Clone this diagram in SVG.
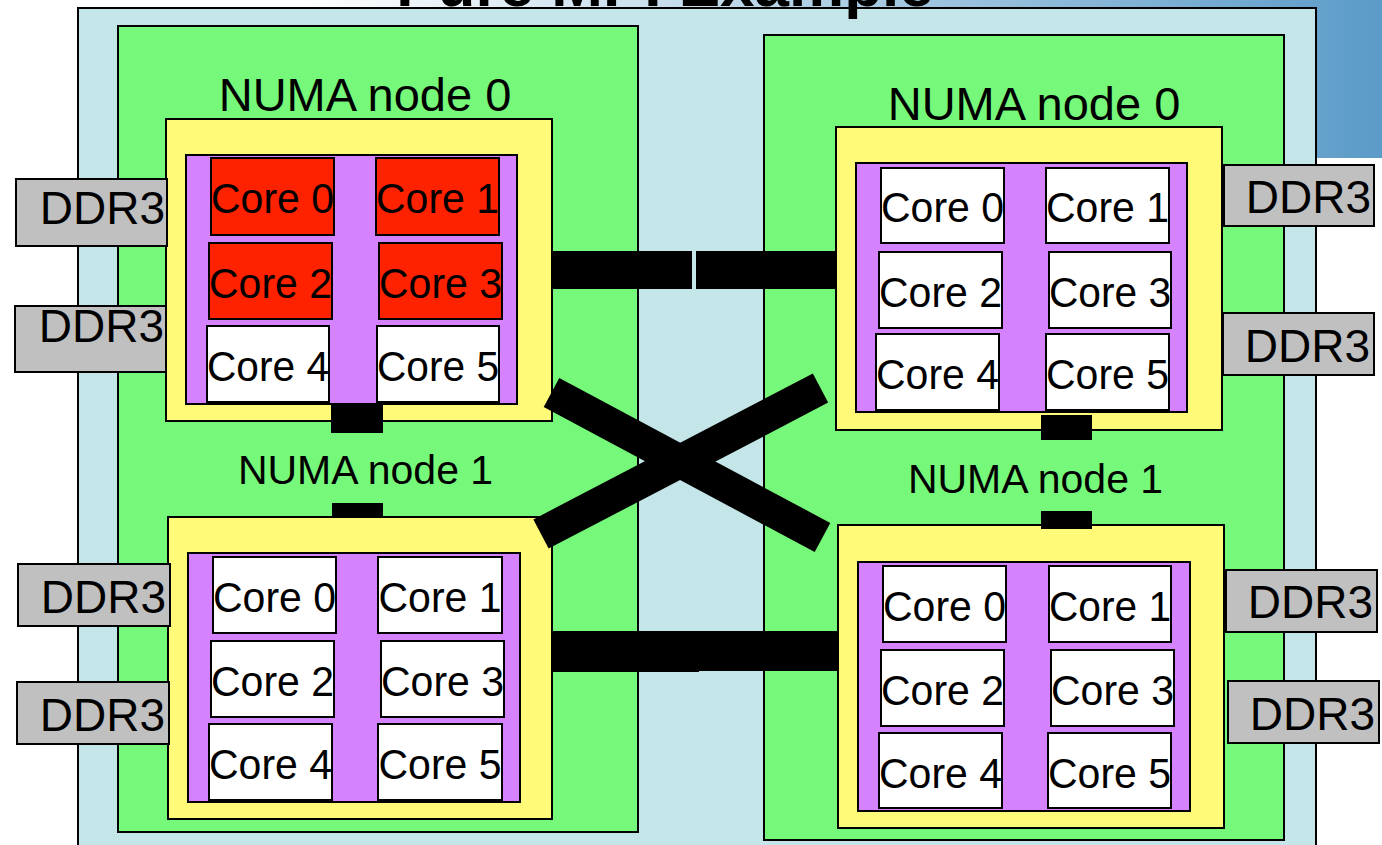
<svg xmlns="http://www.w3.org/2000/svg" width="1382" height="845" viewBox="0 0 1382 845">
<defs>
<linearGradient id="banner" gradientUnits="userSpaceOnUse" x1="300" y1="0" x2="1382" y2="0">
<stop offset="0" stop-color="#ffffff"/>
<stop offset="1" stop-color="#5b9bc8"/>
</linearGradient>
<style>
.bg{fill:#c4e6e8;stroke:#000;stroke-width:2}
.socket{fill:#76f87a;stroke:#000;stroke-width:2}
.numa{fill:#fffa78;stroke:#000;stroke-width:2}
.die{fill:#d582fe;stroke:#000;stroke-width:2}
.core{fill:#ffffff;stroke:#000;stroke-width:2}
.busy{fill:#ff2200}
.ddr{fill:#c0c0c0;stroke:#000;stroke-width:2}
.t{font-family:"Liberation Sans",Arial,sans-serif;fill:#000}
.ct{font-size:43px;text-anchor:middle}
.dt{font-size:46px;text-anchor:end}
.nt{text-anchor:middle}
.link{fill:#000}
.xline{stroke:#000;stroke-width:33;stroke-linecap:butt;fill:none}
</style>
</defs>
<rect x="0" y="0" width="1382" height="158" fill="url(#banner)"/>
<rect class="bg" x="78" y="8" width="1238" height="860"/>
<text class="t" x="665" y="6" font-size="62" font-weight="bold" text-anchor="middle">Pure MPI Example</text>
<rect class="socket" x="118" y="26" width="520" height="806"/>
<rect class="socket" x="764" y="35" width="520" height="805"/>

<g id="numa-tl">
<text class="t nt" x="365" y="111" font-size="47">NUMA node 0</text>
<rect class="numa" x="166" y="119" width="386" height="302"/>
<rect class="die" x="186" y="155" width="331" height="249"/>
<rect class="core busy" x="211" y="158" width="123" height="77"/><text class="t ct" x="272.5" y="213" textLength="123" lengthAdjust="spacingAndGlyphs">Core 0</text>
<rect class="core busy" x="376" y="158" width="123" height="77"/><text class="t ct" x="437.5" y="213" textLength="123" lengthAdjust="spacingAndGlyphs">Core 1</text>
<rect class="core busy" x="209" y="243" width="123" height="76"/><text class="t ct" x="270.5" y="298" textLength="123" lengthAdjust="spacingAndGlyphs">Core 2</text>
<rect class="core busy" x="379" y="243" width="123" height="76"/><text class="t ct" x="440.5" y="298" textLength="123" lengthAdjust="spacingAndGlyphs">Core 3</text>
<rect class="core" x="207" y="326" width="122" height="76"/><text class="t ct" x="268" y="381" textLength="122" lengthAdjust="spacingAndGlyphs">Core 4</text>
<rect class="core" x="377" y="326" width="122" height="76"/><text class="t ct" x="438" y="381" textLength="122" lengthAdjust="spacingAndGlyphs">Core 5</text>
<rect class="ddr" x="16" y="179" width="151" height="67"/><text class="t dt" x="165" y="224">DDR3</text>
<rect class="ddr" x="15" y="306" width="151" height="66"/><text class="t dt" x="164" y="342">DDR3</text>
</g>

<g id="numa-bl">
<text class="t nt" x="365.5" y="484" font-size="41">NUMA node 1</text>
<rect class="numa" x="168" y="517" width="384" height="302"/>
<rect class="die" x="188" y="553" width="332" height="249"/>
<rect class="core" x="213" y="557" width="123" height="76"/><text class="t ct" x="274.5" y="612" textLength="123" lengthAdjust="spacingAndGlyphs">Core 0</text>
<rect class="core" x="378" y="557" width="124" height="76"/><text class="t ct" x="440" y="612" textLength="123" lengthAdjust="spacingAndGlyphs">Core 1</text>
<rect class="core" x="211" y="641" width="123" height="76"/><text class="t ct" x="272.5" y="696" textLength="123" lengthAdjust="spacingAndGlyphs">Core 2</text>
<rect class="core" x="381" y="641" width="123" height="76"/><text class="t ct" x="442.5" y="696" textLength="123" lengthAdjust="spacingAndGlyphs">Core 3</text>
<rect class="core" x="209" y="724" width="123" height="76"/><text class="t ct" x="270.5" y="779" textLength="123" lengthAdjust="spacingAndGlyphs">Core 4</text>
<rect class="core" x="378" y="724" width="124" height="76"/><text class="t ct" x="440" y="779" textLength="123" lengthAdjust="spacingAndGlyphs">Core 5</text>
<rect class="ddr" x="18" y="564" width="152" height="62"/><text class="t dt" x="166" y="613">DDR3</text>
<rect class="ddr" x="17" y="682" width="152" height="62"/><text class="t dt" x="165" y="731">DDR3</text>
</g>

<g id="numa-tr">
<text class="t nt" x="1034" y="120" font-size="47">NUMA node 0</text>
<rect class="numa" x="836" y="127" width="386" height="303"/>
<rect class="die" x="856" y="163" width="331" height="249"/>
<rect class="core" x="881" y="168" width="123" height="75"/><text class="t ct" x="942.5" y="222" textLength="123" lengthAdjust="spacingAndGlyphs">Core 0</text>
<rect class="core" x="1046" y="168" width="123" height="75"/><text class="t ct" x="1107.5" y="222" textLength="123" lengthAdjust="spacingAndGlyphs">Core 1</text>
<rect class="core" x="879" y="252" width="123" height="76"/><text class="t ct" x="940.5" y="307" textLength="123" lengthAdjust="spacingAndGlyphs">Core 2</text>
<rect class="core" x="1049" y="252" width="122" height="76"/><text class="t ct" x="1110" y="307" textLength="122" lengthAdjust="spacingAndGlyphs">Core 3</text>
<rect class="core" x="876" y="334" width="123" height="76"/><text class="t ct" x="937.5" y="389" textLength="123" lengthAdjust="spacingAndGlyphs">Core 4</text>
<rect class="core" x="1046" y="334" width="123" height="76"/><text class="t ct" x="1107.5" y="389" textLength="123" lengthAdjust="spacingAndGlyphs">Core 5</text>
<rect class="ddr" x="1224" y="165" width="150" height="61"/><text class="t dt" x="1371" y="213">DDR3</text>
<rect class="ddr" x="1223" y="313" width="151" height="62"/><text class="t dt" x="1370" y="362">DDR3</text>
</g>

<g id="numa-br">
<text class="t nt" x="1035.5" y="493" font-size="41">NUMA node 1</text>
<rect class="numa" x="838" y="525" width="386" height="303"/>
<rect class="die" x="858" y="562" width="332" height="249"/>
<rect class="core" x="883" y="566" width="123" height="76"/><text class="t ct" x="944.5" y="621" textLength="123" lengthAdjust="spacingAndGlyphs">Core 0</text>
<rect class="core" x="1049" y="566" width="122" height="76"/><text class="t ct" x="1110" y="621" textLength="122" lengthAdjust="spacingAndGlyphs">Core 1</text>
<rect class="core" x="881" y="650" width="123" height="76"/><text class="t ct" x="942.5" y="705" textLength="123" lengthAdjust="spacingAndGlyphs">Core 2</text>
<rect class="core" x="1051" y="650" width="123" height="76"/><text class="t ct" x="1112.5" y="705" textLength="123" lengthAdjust="spacingAndGlyphs">Core 3</text>
<rect class="core" x="879" y="733" width="123" height="75"/><text class="t ct" x="940.5" y="788" textLength="123" lengthAdjust="spacingAndGlyphs">Core 4</text>
<rect class="core" x="1048" y="733" width="123" height="75"/><text class="t ct" x="1109.5" y="788" textLength="123" lengthAdjust="spacingAndGlyphs">Core 5</text>
<rect class="ddr" x="1226" y="570" width="151" height="62"/><text class="t dt" x="1373" y="618">DDR3</text>
<rect class="ddr" x="1228" y="681" width="151" height="62"/><text class="t dt" x="1375" y="730">DDR3</text>
</g>

<g id="connectors">
<rect class="link" x="552" y="251" width="140" height="38"/>
<rect class="link" x="696" y="251" width="140" height="38"/>
<rect class="link" x="553" y="631" width="146" height="41"/>
<rect class="link" x="692" y="631" width="146" height="40"/>
<line class="xline" x1="551.5" y1="392.5" x2="822.5" y2="537.5"/>
<line class="xline" x1="541" y1="534" x2="820.5" y2="388"/>
<rect class="link" x="331" y="403" width="52" height="30"/>
<rect class="link" x="332" y="503" width="51" height="14"/>
<rect class="link" x="1041" y="415" width="51" height="25"/>
<rect class="link" x="1041" y="511" width="51" height="18"/>
</g>
</svg>
